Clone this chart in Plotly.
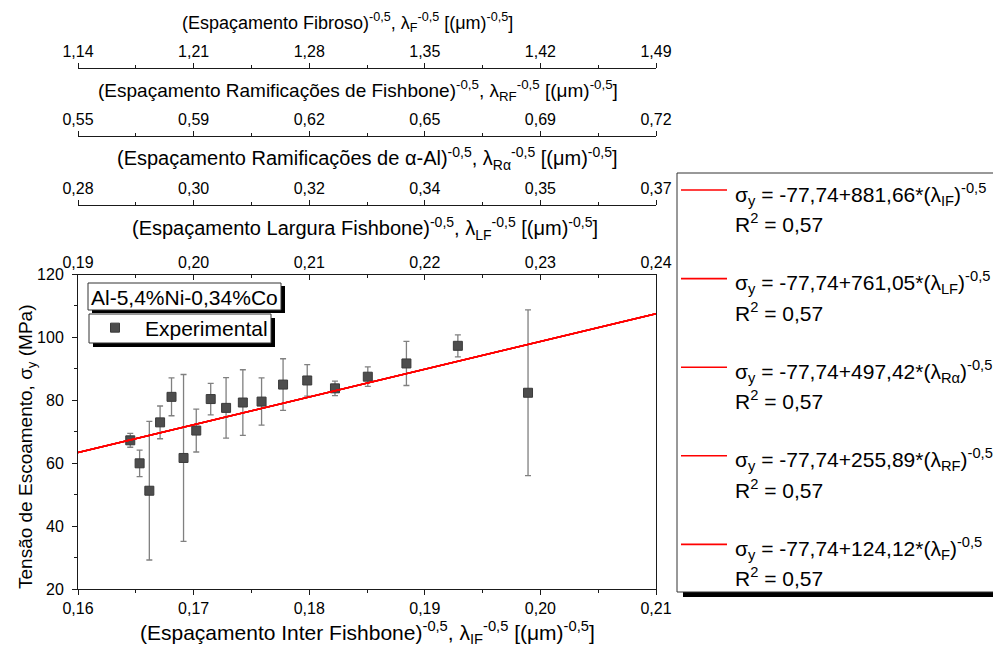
import plotly.graph_objects as go

# ---- data -------------------------------------------------------------
lambda_if = [0.16452, 0.16533, 0.16617, 0.16710, 0.16809, 0.16913, 0.17023, 0.17148, 0.17281,
             0.17426, 0.17588, 0.17774, 0.17983, 0.18223, 0.18507, 0.18841, 0.19286, 0.19893]
sigma_y = [67.2, 59.9, 51.2, 72.9, 81.0, 61.6, 70.3, 80.3, 77.5,
           79.2, 79.5, 84.9, 86.2, 83.7, 87.4, 91.6, 97.2, 82.3]
sigma_err = [2.2, 4.2, 22.0, 5.2, 6.0, 26.5, 6.8, 5.0, 9.6,
             10.4, 7.5, 8.2, 5.0, 2.3, 3.1, 7.0, 3.5, 26.3]

# linear fits sigma_y = a + b * lambda^-0.5 for each spacing
fit_intercept = -77.74
fit_keys = ["IF", "LF", "Rα", "RF", "F"]
fit_slopes = [881.66, 761.05, 497.42, 255.89, 124.12]
fit_slope_labels = ["881,66", "761,05", "497,42", "255,89", "124,12"]
fit_r2 = "0,57"

# bottom axis ticks (lambda_IF^-0.5)
x_major = [0.16, 0.17, 0.18, 0.19, 0.20, 0.21]
x_minor = [0.165, 0.175, 0.185, 0.195, 0.205]
x_labels = ["0,16", "0,17", "0,18", "0,19", "0,20", "0,21"]

# top axes tick labels (at the same positions as the bottom ticks)
labels_lf = ["0,19", "0,20", "0,21", "0,22", "0,23", "0,24"]
labels_ra = ["0,28", "0,30", "0,32", "0,34", "0,35", "0,37"]
labels_rf = ["0,55", "0,59", "0,62", "0,65", "0,69", "0,72"]
labels_f = ["1,14", "1,21", "1,28", "1,35", "1,42", "1,49"]

y_ticks = [20, 40, 60, 80, 100, 120]

# ---- layout helpers ---------------------------------------------------
W, H = 993, 648
ML, MR, MT, MB = 78, 337, 10, 59
PW, PH = W - ML - MR, H - MT - MB


def px_x(px):
    return (px - ML) / PW


def px_y(py):
    return (H - MB - py) / PH


FONT = "Arial, Liberation Sans, sans-serif"
AXC = "#1a1a1a"
TICK_FS = 16
LEG_FS = 21

y_top = px_y(274)
pos_lf = y_top
pos_ra = px_y(205)
pos_rf = px_y(136)
pos_f = px_y(68)

fig = go.Figure()

# experimental points
fig.add_trace(go.Scatter(
    x=lambda_if, y=sigma_y, mode="markers", name="Experimental",
    marker=dict(symbol="square", size=9, color="#4d4d4d", line=dict(width=1, color="#3a3a3a")),
    error_y=dict(type="data", array=sigma_err, visible=True, color="#808080", thickness=1.3, width=3),
    legend="legend", showlegend=True,
))

# fit lines, each on its own spacing axis
axis_ids = {"IF": "x", "LF": "x2", "Rα": "x3", "RF": "x4", "F": "x5"}
k_factors = {key: fit_slopes[0] / s for key, s in zip(fit_keys, fit_slopes)}
for key, slope in zip(fit_keys, fit_slopes):
    k = k_factors[key]
    xs = [x_major[0] * k, x_major[-1] * k]
    ys = [fit_intercept + slope * v for v in xs]
    fig.add_trace(go.Scatter(
        x=xs, y=ys, mode="lines", xaxis=axis_ids[key], yaxis="y",
        line=dict(color="#ff0000", width=1.6), showlegend=False, hoverinfo="skip",
    ))


def top_axis(key, labels, position, ticks_dir):
    k = k_factors[key]
    return dict(
        overlaying="x", anchor="free", position=position, side="top",
        domain=[0, 1],
        range=[x_major[0] * k, x_major[-1] * k],
        tickmode="array", tickvals=[v * k for v in x_major], ticktext=labels,
        ticks=ticks_dir, ticklen=5, tickwidth=1, tickcolor=AXC,
        minor=dict(tickmode="array", tickvals=[v * k for v in x_minor], ticks=ticks_dir,
                   ticklen=3, tickwidth=1, tickcolor=AXC),
        showline=True, linecolor=AXC, linewidth=1, showgrid=False, zeroline=False,
        tickfont=dict(size=TICK_FS, color="#000", family=FONT),
    )


fig.update_layout(
    width=W, height=H,
    margin=dict(l=ML, r=MR, t=MT, b=MB, autoexpand=False),
    paper_bgcolor="white", plot_bgcolor="white",
    font=dict(family=FONT, color="#000"),
    xaxis=dict(
        domain=[0, 1], range=[x_major[0], x_major[-1]],
        tickmode="array", tickvals=x_major, ticktext=x_labels,
        ticks="outside", ticklen=5, tickwidth=1, tickcolor=AXC,
        minor=dict(tickmode="array", tickvals=x_minor, ticks="outside", ticklen=3,
                   tickwidth=1, tickcolor=AXC),
        showline=True, linecolor=AXC, linewidth=1, showgrid=False, zeroline=False,
        tickfont=dict(size=TICK_FS, color="#000", family=FONT),
    ),
    xaxis2=top_axis("LF", labels_lf, pos_lf, "inside"),
    xaxis3=top_axis("Rα", labels_ra, pos_ra, "outside"),
    xaxis4=top_axis("RF", labels_rf, pos_rf, "outside"),
    xaxis5=top_axis("F", labels_f, pos_f, "outside"),
    yaxis=dict(
        domain=[0, y_top], range=[20, 120],
        tickmode="array", tickvals=y_ticks,
        ticks="outside", ticklen=5, tickwidth=1, tickcolor=AXC, ticklabelstandoff=5,
        minor=dict(dtick=10, ticks="outside", ticklen=3, tickwidth=1, tickcolor=AXC),
        showline=True, linecolor=AXC, linewidth=1, mirror=True,
        showgrid=False, zeroline=False,
        tickfont=dict(size=TICK_FS, color="#000", family=FONT),
    ),
    legend=dict(
        x=px_x(85), y=px_y(328), xanchor="left", yanchor="middle",
        bgcolor="rgba(0,0,0,0)", borderwidth=0, itemwidth=50,
        font=dict(size=LEG_FS, family=FONT, color="#000"),
    ),
    showlegend=True,
)

SUP = "<sup>-0,5</sup>"
annotations = []
shapes = []

# axis titles: (axis line position, text, font size, horizontal centre in px)
axis_titles = [
    (pos_f, f"(Espaçamento Fibroso){SUP}, λ<sub>F</sub>{SUP} [(μm){SUP}]", 18, 347),
    (pos_rf, f"(Espaçamento Ramificações de Fishbone){SUP}, λ<sub>RF</sub>{SUP} [(μm){SUP}]", 19, 358),
    (pos_ra, f"(Espaçamento Ramificações de α-Al){SUP}, λ<sub>Rα</sub>{SUP} [(μm){SUP}]", 20, 367),
    (pos_lf, f"(Espaçamento Largura Fishbone){SUP}, λ<sub>LF</sub>{SUP} [(μm){SUP}]", 20, 365),
]
for pos, txt, fs, cx in axis_titles:
    annotations.append(dict(
        text=txt, xref="paper", yref="paper", x=px_x(cx), y=pos, xanchor="center", yanchor="middle",
        yshift=46, showarrow=False, font=dict(size=fs, family=FONT, color="#000"),
    ))
annotations.append(dict(
    text=f"(Espaçamento Inter Fishbone){SUP}, λ<sub>IF</sub>{SUP} [(μm){SUP}]",
    xref="paper", yref="paper", x=0.5, y=0, xanchor="center", yanchor="middle",
    yshift=-43, showarrow=False, font=dict(size=21, family=FONT, color="#000"),
))
annotations.append(dict(
    text="Tensão de Escoamento, σ<sub>y</sub> (MPa)", textangle=-90,
    xref="paper", yref="paper", x=0, y=px_y(447), xanchor="center", yanchor="middle",
    xshift=-51, showarrow=False, font=dict(size=19, family=FONT, color="#000"),
))


def box(x0, y0, x1, y1, dx, dy):
    # black drop shadow, then white framed box
    shapes.append(dict(type="rect", xref="paper", yref="paper", layer="above",
                       x0=px_x(x0 + dx), x1=px_x(x1 + dx), y0=px_y(y0 + dy), y1=px_y(y1 + dy),
                       fillcolor="black", line=dict(width=0)))
    shapes.append(dict(type="rect", xref="paper", yref="paper", layer="above",
                       x0=px_x(x0), x1=px_x(x1), y0=px_y(y0), y1=px_y(y1),
                       fillcolor="white", line=dict(width=1, color="#333")))


# alloy label and legend frames inside the plot
box(88, 283, 281, 310, 4, 3)
box(89, 314, 271, 343, 4, 4)
annotations.append(dict(
    text="Al-5,4%Ni-0,34%Co", xref="paper", yref="paper", x=px_x(184.5), y=px_y(297),
    xanchor="center", yanchor="middle", showarrow=False,
    font=dict(size=LEG_FS, family=FONT, color="#000"),
))

# fit equations panel
box(677, 173, 1010, 592, 6, 5)
row0, row_step = 194.0, 88.6
for i, (key, lab) in enumerate(zip(fit_keys, fit_slope_labels)):
    yc = row0 + i * row_step
    shapes.append(dict(type="line", xref="paper", yref="paper", layer="above",
                       x0=px_x(681), x1=px_x(727), y0=px_y(yc - 4), y1=px_y(yc - 4),
                       line=dict(color="#ff0000", width=1.6)))
    annotations.append(dict(
        text=f"σ<sub>y</sub> = {fit_intercept:.2f}".replace(".", ",") + f"+{lab}*(λ<sub>{key}</sub>){SUP}",
        xref="paper", yref="paper", x=px_x(733), y=px_y(yc), xanchor="left", yanchor="middle",
        showarrow=False, font=dict(size=LEG_FS, family=FONT, color="#000"),
    ))
    annotations.append(dict(
        text=f"R<sup>2</sup> = {fit_r2}",
        xref="paper", yref="paper", x=px_x(733), y=px_y(yc + 29), xanchor="left", yanchor="middle",
        showarrow=False, font=dict(size=LEG_FS, family=FONT, color="#000"),
    ))

fig.update_layout(annotations=annotations, shapes=shapes)
fig.write_html("out.html")
